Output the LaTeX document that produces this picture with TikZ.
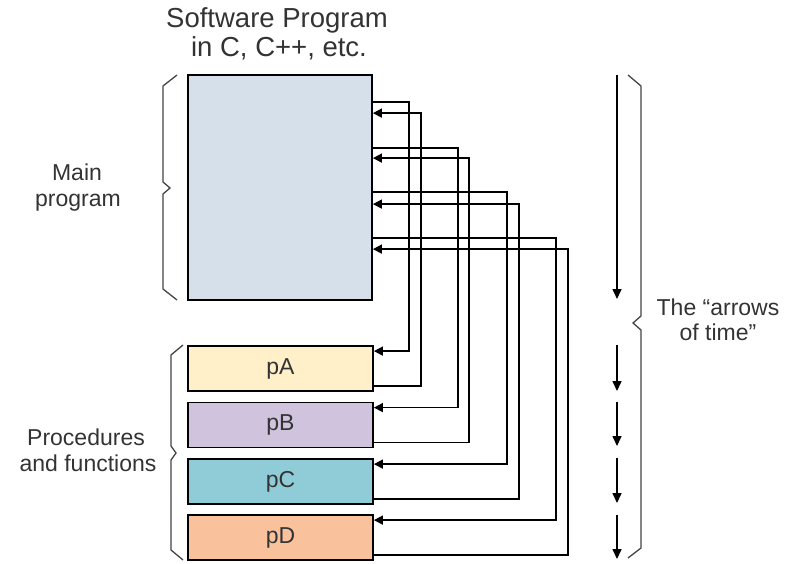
\documentclass[tikz,border=0pt]{standalone}
\usepackage{fontspec}
\setmainfont{Liberation Sans}
\usetikzlibrary{arrows.meta,calc}
\definecolor{mainc}{HTML}{D6E0EA}
\definecolor{pAc}{HTML}{FFF0C9}
\definecolor{pBc}{HTML}{D0C3DD}
\definecolor{pCc}{HTML}{90CCD8}
\definecolor{pDc}{HTML}{F9C29C}
\definecolor{txt}{HTML}{333333}
\definecolor{bracec}{HTML}{444444}
\tikzset{
  box/.style={draw=black, line width=1.8pt, inner sep=0pt},
  proc/.style={box, minimum width=185pt, minimum height=45pt, text=txt, font=\fontsize{23}{27}\selectfont},
  wire/.style={draw=black, line width=1.6pt, -{Triangle[length=9pt,width=9pt]}},
  tarrow/.style={draw=black, line width=1.6pt, -{Triangle[length=10pt,width=9pt]}},
  bracel/.style={draw=bracec, line width=1.3pt},
  lbl/.style={text=txt, font=\fontsize{23}{27}\selectfont, anchor=base, inner sep=0pt},
  ttl/.style={text=txt, font=\fontsize{27.5}{30}\selectfont, anchor=base, inner sep=0pt}
}
\begin{document}
\begin{tikzpicture}[x=1pt,y=-1pt]
\useasboundingbox (0,0) rectangle (787,564);
% title
\node[ttl] (t1) at (277,28) {Software Program};
\node[ttl] (t2) at (279,57) {in C, C++, etc.};
% main box
\node[box, fill=mainc, minimum width=184pt, minimum height=225pt] (main) at (280,187.5) {};
% procedures
\node[proc, fill=pAc] (pA) at (280.5,368.5) {pA};
\node[proc, fill=pBc] (pB) at (280.5,425) {pB};
\node[proc, fill=pCc] (pC) at (280.5,481.5) {pC};
\node[proc, fill=pDc] (pD) at (280.5,537.5) {pD};
% points on main
\coordinate (m1) at ($(main.north east)+(0,28)$);
\coordinate (m2) at ($(main.north east)+(0,39)$);
\coordinate (m3) at ($(main.north east)+(0,74)$);
\coordinate (m4) at ($(main.north east)+(0,84)$);
\coordinate (m5) at ($(main.north east)+(0,118)$);
\coordinate (m6) at ($(main.north east)+(0,130)$);
\coordinate (m7) at ($(main.north east)+(0,164)$);
\coordinate (m8) at ($(main.north east)+(0,175)$);
% points on procedures
\coordinate (a1) at ($(pA.north east)+(0,6)$);
\coordinate (a2) at ($(pA.south east)+(0,-6)$);
\coordinate (b1) at ($(pB.north east)+(0,6)$);
\coordinate (b2) at ($(pB.south east)+(0,-6)$);
\coordinate (c1) at ($(pC.north east)+(0,6)$);
\coordinate (c2) at ($(pC.south east)+(0,-6)$);
\coordinate (d1) at ($(pD.north east)+(0,6)$);
\coordinate (d2) at ($(pD.south east)+(0,-6)$);
% calls and returns
\draw[wire] (m1) -| ($(a1)+(35,0)$) -- (a1);
\draw[wire] (a2) -| ($(m2)+(48,0)$) -- (m2);
\draw[wire] (m3) -| ($(b1)+(84,0)$) -- (b1);
\draw[wire] (b2) -| ($(m4)+(96,0)$) -- (m4);
\draw[wire] (m5) -| ($(c1)+(133,0)$) -- (c1);
\draw[wire] (c2) -| ($(m6)+(146,0)$) -- (m6);
\draw[wire] (m7) -| ($(d1)+(182,0)$) -- (d1);
\draw[wire] (d2) -| ($(m8)+(195,0)$) -- (m8);
% arrows of time
\coordinate (ta0) at (617,75);  \coordinate (ta1) at (617,299);
\coordinate (tb0) at (617,345); \coordinate (tb1) at (617,391);
\coordinate (tc0) at (617,402); \coordinate (tc1) at (617,446);
\coordinate (td0) at (617,458); \coordinate (td1) at (617,503);
\coordinate (te0) at (617,515); \coordinate (te1) at (617,559);
\draw[tarrow] (ta0) -- (ta1);
\draw[tarrow] (tb0) -- (tb1);
\draw[tarrow] (tc0) -- (tc1);
\draw[tarrow] (td0) -- (td1);
\draw[tarrow] (te0) -- (te1);
% braces
\draw[bracel] (177,75) -- (163,86) -- (163,182) -- (170,188) -- (163,194) -- (163,289) -- (177,300);
\draw[bracel] (183,345) -- (171,355) -- (171,446) -- (176,453) -- (171,460) -- (171,550) -- (183,560);
\draw[bracel] (628,75) -- (641,86) -- (641,316) -- (633,323) -- (641,330) -- (641,548) -- (628,558);
% labels
\node[lbl] (l1) at (77,181) {Main};
\node[lbl] (l2) at (78,207) {program};
\node[lbl] (l3) at (86,445) {Procedures};
\node[lbl] (l4) at (88,471) {and functions};
\node[lbl] (l5) at (718,315) {The “arrows};
\node[lbl] (l6) at (718,340) {of time”};
\end{tikzpicture}
\end{document}
